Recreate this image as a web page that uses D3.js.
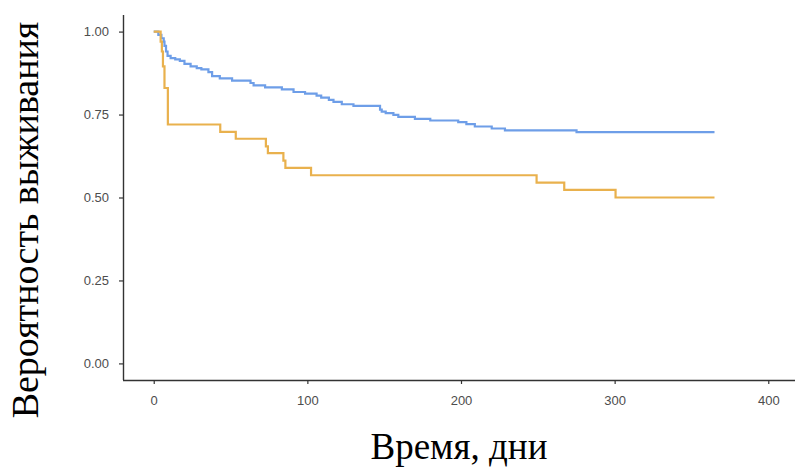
<!DOCTYPE html>
<html>
<head>
<meta charset="utf-8">
<script src="https://cdn.jsdelivr.net/npm/d3@7"></script>
<style>
  html, body { margin: 0; padding: 0; background: #fff; }
  svg { display: block; }
</style>
</head>
<body>
<div id="chart"></div>
<script>
// Kaplan-Meier: две группы
const blueTime = [0, 3, 5, 6.5, 7, 8, 9, 11, 14, 17, 20, 24, 28, 31, 35.6, 38, 43, 51, 63, 65, 72.5, 83.4, 91, 98.5, 106, 109, 114, 117, 122.4, 130, 147.3, 148.4, 151, 156, 159.2, 170, 180, 198.2, 203.5, 209, 220, 228.6, 275.2, 365];
const blueSurv = [1.00, 0.99, 0.98, 0.97, 0.957, 0.94, 0.927, 0.92, 0.916, 0.912, 0.903, 0.895, 0.89, 0.886, 0.878, 0.866, 0.859, 0.852, 0.845, 0.838, 0.832, 0.826, 0.818, 0.813, 0.807, 0.801, 0.794, 0.788, 0.781, 0.776, 0.765, 0.759, 0.754, 0.749, 0.743, 0.737, 0.732, 0.727, 0.721, 0.714, 0.708, 0.702, 0.697, 0.697];

const orangeTime = [0, 4.5, 5.3, 6, 7, 9.2, 43.3, 53.4, 73, 74.3, 84.4, 85.7, 102.4, 249.2, 267.2, 300.6, 365];
const orangeSurv = [1.00, 0.97, 0.94, 0.895, 0.83, 0.72, 0.698, 0.677, 0.654, 0.634, 0.611, 0.589, 0.567, 0.545, 0.523, 0.50, 0.50];

const xTicks = [0, 100, 200, 300, 400];
const yTicks = [0, 0.25, 0.5, 0.75, 1];
const yTickLabels = ["0.00", "0.25", "0.50", "0.75", "1.00"];

const xTitle = "Время, дни";
const yTitle = "Вероятность выживания";

const W = 795, H = 468;
const margin = { left: 123, top: 15, bottom: 88 };

const svg = d3.select("#chart").append("svg")
    .attr("width", W)
    .attr("height", H);

const x = d3.scaleLinear().domain([-20, 420]).range([margin.left, 799]);
const y = d3.scaleLinear().domain([-0.05, 1.05]).range([H - margin.bottom, margin.top]);

// Оси
const xAxis = svg.append("g")
    .attr("transform", `translate(0,${H - margin.bottom})`)
    .call(d3.axisBottom(x).tickValues(xTicks).tickSize(4).tickPadding(12).tickFormat(d3.format("d")));

const yAxis = svg.append("g")
    .attr("transform", `translate(${margin.left},0)`)
    .call(d3.axisLeft(y).tickValues(yTicks).tickSize(4).tickPadding(10).tickFormat((d, i) => yTickLabels[i]));

[xAxis, yAxis].forEach(g => {
    g.select(".domain").attr("stroke", "#333").attr("stroke-width", 1.4);
    g.selectAll(".tick line").attr("stroke", "#333").attr("stroke-width", 1.2);
    g.selectAll(".tick text")
        .attr("fill", "#4d4d4d")
        .style("font-family", "'Liberation Sans', Arial, sans-serif")
        .style("font-size", "13px");
});
xAxis.select(".domain").attr("d", `M${margin.left},0.5H${W}`);
yAxis.select(".domain").attr("d", `M0.5,${margin.top}V${H - margin.bottom}`);

// Ступенчатые кривые
const line = d3.line()
    .x(d => x(d[0]))
    .y(d => y(d[1]))
    .curve(d3.curveStepAfter);

const series = [
    { time: blueTime, surv: blueSurv, color: "#6e9ee8" },
    { time: orangeTime, surv: orangeSurv, color: "#e9b14d" }
];

series.forEach(s => {
    svg.append("path")
        .datum(s.time.map((t, i) => [t, s.surv[i]]))
        .attr("d", line)
        .attr("fill", "none")
        .attr("stroke", s.color)
        .attr("stroke-width", 2.2);
});

// Подписи осей
svg.append("text")
    .attr("x", (margin.left + W) / 2)
    .attr("y", 459)
    .attr("text-anchor", "middle")
    .style("font-family", "'Liberation Serif', 'Times New Roman', serif")
    .style("font-size", "37px")
    .attr("fill", "#000")
    .text(xTitle);

svg.append("text")
    .attr("transform", "translate(38,220) rotate(-90)")
    .attr("text-anchor", "middle")
    .style("font-family", "'Liberation Serif', 'Times New Roman', serif")
    .style("font-size", "38px")
    .attr("fill", "#000")
    .text(yTitle);
</script>
</body>
</html>
